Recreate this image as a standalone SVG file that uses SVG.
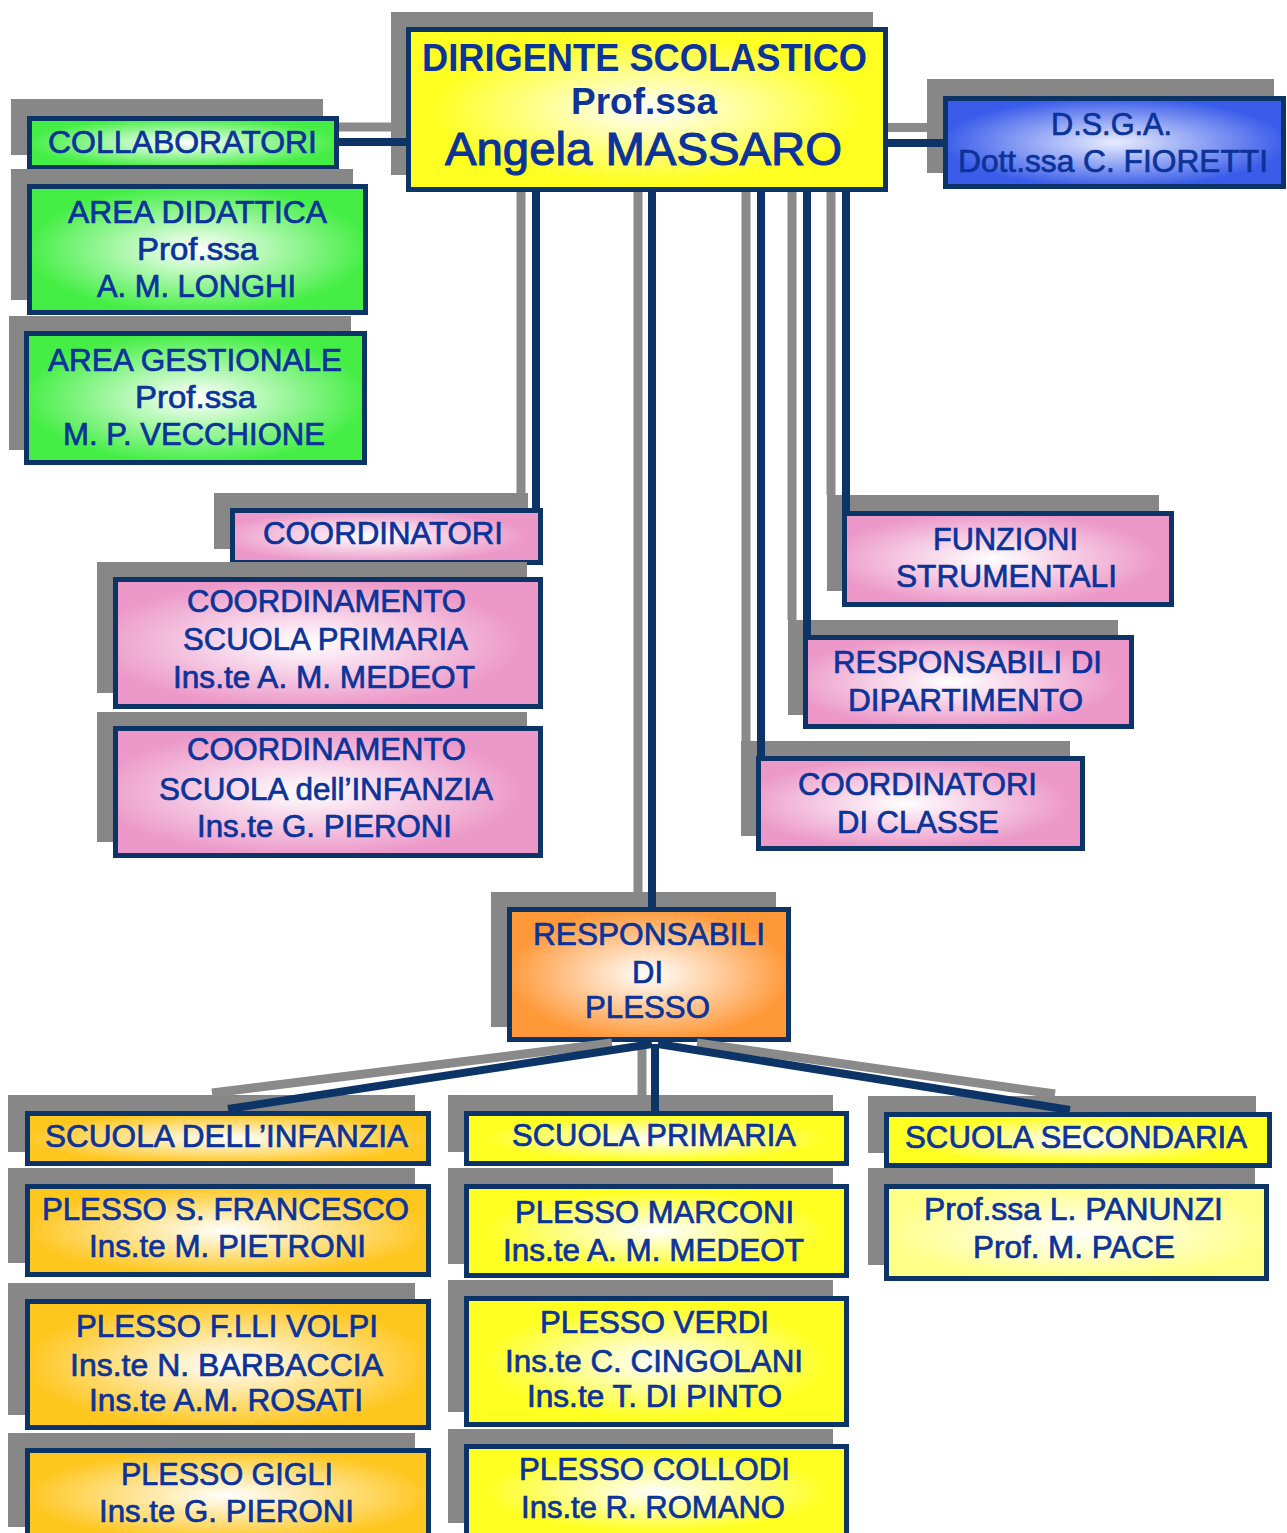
<svg xmlns="http://www.w3.org/2000/svg" width="1287" height="1533" viewBox="0 0 1287 1533">
<defs>
<radialGradient id="gYellow" cx="0.5" cy="0.5" r="0.6"><stop offset="0" stop-color="#FFFFFF"/><stop offset="0.75" stop-color="#FFFF22"/></radialGradient>
<radialGradient id="gGreen" cx="0.5" cy="0.5" r="0.6"><stop offset="0" stop-color="#FFFFFF"/><stop offset="0.85" stop-color="#44EE44"/></radialGradient>
<radialGradient id="gBlue" cx="0.5" cy="0.5" r="0.6"><stop offset="0" stop-color="#E8ECFF"/><stop offset="0.85" stop-color="#3A5CEA"/></radialGradient>
<radialGradient id="gPink" cx="0.45" cy="0.5" r="0.6"><stop offset="0" stop-color="#FFFFFF"/><stop offset="0.85" stop-color="#EC98C8"/></radialGradient>
<radialGradient id="gOrange" cx="0.5" cy="0.5" r="0.6"><stop offset="0" stop-color="#FFFFFF"/><stop offset="0.85" stop-color="#FF9838"/></radialGradient>
<radialGradient id="gGold" cx="0.5" cy="0.5" r="0.6"><stop offset="0" stop-color="#FFFFFF"/><stop offset="0.85" stop-color="#FFC61E"/></radialGradient>
<radialGradient id="gPale" cx="0.5" cy="0.5" r="0.6"><stop offset="0" stop-color="#FFFFFF"/><stop offset="0.85" stop-color="#FFFF88"/></radialGradient>
</defs>
<style>
.sh{fill:#878787}
.bx{stroke:#0C3466;stroke-width:5}
.yel{fill:url(#gYellow)}
.grn{fill:url(#gGreen)}
.blu{fill:url(#gBlue)}
.pnk{fill:url(#gPink)}
.org{fill:url(#gOrange)}
.gld{fill:url(#gGold)}
.pal{fill:url(#gPale)}
.t{font-family:"Liberation Sans",Arial,sans-serif;font-size:31px;fill:#0B3399;stroke:#0B3399;stroke-width:0.7;text-anchor:middle}
.b{font-weight:bold;stroke-width:0}
.h1{font-size:39px}
.h2{font-size:36px}
.h3{font-size:47px;stroke-width:1.1}
.gl{stroke:#8A8A8A;stroke-width:9;fill:none}
.nl{stroke:#0C3466;stroke-width:8;fill:none}
</style>
<rect width="1287" height="1533" fill="#FFFFFF"/>

<g id="dirigente">
<rect class="sh" x="391" y="12" width="482" height="163"/>
<rect class="bx yel" x="408.5" y="29.5" width="477" height="160"/>
<text class="t b h1" x="644.5" y="71" textLength="445" lengthAdjust="spacingAndGlyphs">DIRIGENTE SCOLASTICO</text>
<text class="t b h2" x="644" y="114" textLength="146" lengthAdjust="spacingAndGlyphs">Prof.ssa</text>
<text class="t h3" x="643.5" y="165" textLength="397" lengthAdjust="spacingAndGlyphs">Angela MASSARO</text>
</g>

<g id="collaboratori">
<rect class="sh" x="11" y="99" width="312" height="56"/>
<rect class="bx grn" x="29.5" y="118.5" width="307" height="49"/>
<text class="t" x="182.5" y="153" textLength="269" lengthAdjust="spacingAndGlyphs">COLLABORATORI</text>
</g>

<g id="dsga">
<rect class="sh" x="927" y="79" width="347" height="94"/>
<rect class="bx blu" x="945.5" y="98.5" width="338" height="88"/>
<text class="t" x="1111.5" y="135" textLength="121" lengthAdjust="spacingAndGlyphs">D.S.G.A.</text>
<text class="t" x="1113" y="172" textLength="310" lengthAdjust="spacingAndGlyphs">Dott.ssa C. FIORETTI</text>
</g>

<g id="area-didattica">
<rect class="sh" x="11" y="169" width="342" height="131"/>
<rect class="bx grn" x="29.5" y="186.5" width="336" height="126"/>
<text class="t" x="197.5" y="223" textLength="259" lengthAdjust="spacingAndGlyphs">AREA DIDATTICA</text>
<text class="t" x="197.5" y="260" textLength="121" lengthAdjust="spacingAndGlyphs">Prof.ssa</text>
<text class="t" x="196.5" y="297" textLength="199" lengthAdjust="spacingAndGlyphs">A. M. LONGHI</text>
</g>

<g id="area-gestionale">
<rect class="sh" x="9" y="316" width="342" height="134"/>
<rect class="bx grn" x="26.5" y="333.5" width="338" height="129"/>
<text class="t" x="195" y="371" textLength="294" lengthAdjust="spacingAndGlyphs">AREA GESTIONALE</text>
<text class="t" x="195.5" y="408" textLength="121" lengthAdjust="spacingAndGlyphs">Prof.ssa</text>
<text class="t" x="194" y="445" textLength="262" lengthAdjust="spacingAndGlyphs">M. P. VECCHIONE</text>
</g>

<g id="coordinatori">
<rect class="sh" x="214" y="493" width="314" height="56"/>
<rect class="bx pnk" x="232.5" y="510.5" width="308" height="52"/>
<text class="t" x="383" y="544" textLength="240" lengthAdjust="spacingAndGlyphs">COORDINATORI</text>
</g>

<g id="coord-primaria">
<rect class="sh" x="97" y="562" width="430" height="131"/>
<rect class="bx pnk" x="115.5" y="579.5" width="425" height="127"/>
<text class="t" x="326.5" y="612" textLength="279" lengthAdjust="spacingAndGlyphs">COORDINAMENTO</text>
<text class="t" x="325.5" y="650" textLength="285" lengthAdjust="spacingAndGlyphs">SCUOLA PRIMARIA</text>
<text class="t" x="324" y="688" textLength="302" lengthAdjust="spacingAndGlyphs">Ins.te A. M. MEDEOT</text>
</g>

<g id="coord-infanzia">
<rect class="sh" x="97" y="712" width="430" height="130"/>
<rect class="bx pnk" x="115.5" y="728.5" width="425" height="127"/>
<text class="t" x="326.5" y="760" textLength="279" lengthAdjust="spacingAndGlyphs">COORDINAMENTO</text>
<text class="t" x="326" y="800" textLength="334" lengthAdjust="spacingAndGlyphs">SCUOLA dell’INFANZIA</text>
<text class="t" x="324.5" y="837" textLength="255" lengthAdjust="spacingAndGlyphs">Ins.te G. PIERONI</text>
</g>

<g id="funzioni-strumentali">
<rect class="sh" x="827" y="495" width="332" height="96"/>
<rect class="bx pnk" x="844.5" y="513.5" width="327" height="91"/>
<text class="t" x="1005.5" y="550" textLength="145" lengthAdjust="spacingAndGlyphs">FUNZIONI</text>
<text class="t" x="1006.5" y="587" textLength="221" lengthAdjust="spacingAndGlyphs">STRUMENTALI</text>
</g>

<g id="responsabili-dipartimento">
<rect class="sh" x="788" y="620" width="330" height="95"/>
<rect class="bx pnk" x="805.5" y="637.5" width="326" height="89"/>
<text class="t" x="967.5" y="673" textLength="269" lengthAdjust="spacingAndGlyphs">RESPONSABILI DI</text>
<text class="t" x="965.5" y="711" textLength="235" lengthAdjust="spacingAndGlyphs">DIPARTIMENTO</text>
</g>

<g id="coordinatori-classe">
<rect class="sh" x="741" y="741" width="329" height="95"/>
<rect class="bx pnk" x="758.5" y="758.5" width="324" height="90"/>
<text class="t" x="917.5" y="795" textLength="239" lengthAdjust="spacingAndGlyphs">COORDINATORI</text>
<text class="t" x="918" y="833" textLength="162" lengthAdjust="spacingAndGlyphs">DI CLASSE</text>
</g>

<g id="responsabili-plesso">
<rect class="sh" x="491" y="892" width="285" height="135"/>
<rect class="bx org" x="509.5" y="909.5" width="279" height="130"/>
<text class="t" x="649" y="945" textLength="232" lengthAdjust="spacingAndGlyphs">RESPONSABILI</text>
<text class="t" x="647.5" y="983">DI</text>
<text class="t" x="647.5" y="1018" textLength="125" lengthAdjust="spacingAndGlyphs">PLESSO</text>
</g>

<g id="scuola-infanzia">
<rect class="sh" x="8" y="1095" width="407" height="57"/>
<rect class="bx gld" x="27.5" y="1113.5" width="401" height="50"/>
<text class="t" x="226.5" y="1147" textLength="363" lengthAdjust="spacingAndGlyphs">SCUOLA DELL’INFANZIA</text>
</g>

<g id="plesso-s-francesco">
<rect class="sh" x="8" y="1168" width="407" height="95"/>
<rect class="bx gld" x="27.5" y="1186.5" width="401" height="88"/>
<text class="t" x="225.5" y="1220" textLength="367" lengthAdjust="spacingAndGlyphs">PLESSO S. FRANCESCO</text>
<text class="t" x="227.5" y="1257" textLength="277" lengthAdjust="spacingAndGlyphs">Ins.te M. PIETRONI</text>
</g>

<g id="plesso-volpi">
<rect class="sh" x="8" y="1283" width="407" height="132"/>
<rect class="bx gld" x="27.5" y="1301.5" width="401" height="126"/>
<text class="t" x="227" y="1337" textLength="302" lengthAdjust="spacingAndGlyphs">PLESSO F.LLI VOLPI</text>
<text class="t" x="226.5" y="1376" textLength="313" lengthAdjust="spacingAndGlyphs">Ins.te N. BARBACCIA</text>
<text class="t" x="226" y="1411" textLength="274" lengthAdjust="spacingAndGlyphs">Ins.te A.M. ROSATI</text>
</g>

<g id="plesso-gigli">
<rect class="sh" x="8" y="1433" width="407" height="94"/>
<rect class="bx gld" x="27.5" y="1450.5" width="401" height="90"/>
<text class="t" x="227" y="1485" textLength="212" lengthAdjust="spacingAndGlyphs">PLESSO GIGLI</text>
<text class="t" x="226.5" y="1522" textLength="255" lengthAdjust="spacingAndGlyphs">Ins.te G. PIERONI</text>
</g>

<g id="scuola-primaria">
<rect class="sh" x="448" y="1095" width="385" height="57"/>
<rect class="bx yel" x="466.5" y="1113.5" width="380" height="50"/>
<text class="t" x="654" y="1146" textLength="284" lengthAdjust="spacingAndGlyphs">SCUOLA PRIMARIA</text>
</g>

<g id="plesso-marconi">
<rect class="sh" x="448" y="1168" width="385" height="96"/>
<rect class="bx yel" x="466.5" y="1186.5" width="380" height="89"/>
<text class="t" x="654.5" y="1223" textLength="279" lengthAdjust="spacingAndGlyphs">PLESSO MARCONI</text>
<text class="t" x="653.5" y="1261" textLength="301" lengthAdjust="spacingAndGlyphs">Ins.te A. M. MEDEOT</text>
</g>

<g id="plesso-verdi">
<rect class="sh" x="448" y="1280" width="385" height="132"/>
<rect class="bx yel" x="466.5" y="1298.5" width="380" height="126"/>
<text class="t" x="654.5" y="1333" textLength="229" lengthAdjust="spacingAndGlyphs">PLESSO VERDI</text>
<text class="t" x="654" y="1372" textLength="298" lengthAdjust="spacingAndGlyphs">Ins.te C. CINGOLANI</text>
<text class="t" x="654.5" y="1407" textLength="255" lengthAdjust="spacingAndGlyphs">Ins.te T. DI PINTO</text>
</g>

<g id="plesso-collodi">
<rect class="sh" x="448" y="1429" width="385" height="94"/>
<rect class="bx yel" x="466.5" y="1446.5" width="380" height="90"/>
<text class="t" x="654.5" y="1480" textLength="271" lengthAdjust="spacingAndGlyphs">PLESSO COLLODI</text>
<text class="t" x="653" y="1518" textLength="264" lengthAdjust="spacingAndGlyphs">Ins.te R. ROMANO</text>
</g>

<g id="scuola-secondaria">
<rect class="sh" x="868" y="1096" width="388" height="57"/>
<rect class="bx yel" x="886.5" y="1114.5" width="383" height="51"/>
<text class="t" x="1076" y="1148" textLength="342" lengthAdjust="spacingAndGlyphs">SCUOLA SECONDARIA</text>
</g>

<g id="secondaria-docenti">
<rect class="sh" x="868" y="1168" width="387" height="97"/>
<rect class="bx pal" x="886.5" y="1186.5" width="380" height="92"/>
<text class="t" x="1073.5" y="1220" textLength="299" lengthAdjust="spacingAndGlyphs">Prof.ssa L. PANUNZI</text>
<text class="t" x="1074" y="1258" textLength="202" lengthAdjust="spacingAndGlyphs">Prof. M. PACE</text>
</g>

<g id="connectors">
<path class="gl" d="M339 127 H391"/>
<path class="gl" d="M888 127.5 H927"/>
<path class="gl" d="M521 192 V493"/>
<path class="gl" d="M638 192 V892"/>
<path class="gl" d="M746 192 V741"/>
<path class="gl" d="M792 192 V620"/>
<path class="gl" d="M831 192 V495"/>
<path class="gl" d="M612 1043 L212 1093"/>
<path class="gl" d="M642 1044 V1095"/>
<path class="gl" d="M697 1043 L1055 1094"/>
<path class="nl" d="M339 142 H407"/>
<path class="nl" d="M888 143 H943"/>
<path class="nl" d="M536 192 V508"/>
<path class="nl" d="M652 192 V907"/>
<path class="nl" d="M761 192 V756"/>
<path class="nl" d="M807 192 V635"/>
<path class="nl" d="M846 192 V511"/>
<path class="nl" d="M652 1044 L228 1109"/>
<path class="nl" d="M655 1044 V1111"/>
<path class="nl" d="M658 1044 L1070 1110"/>
</g>
</svg>
